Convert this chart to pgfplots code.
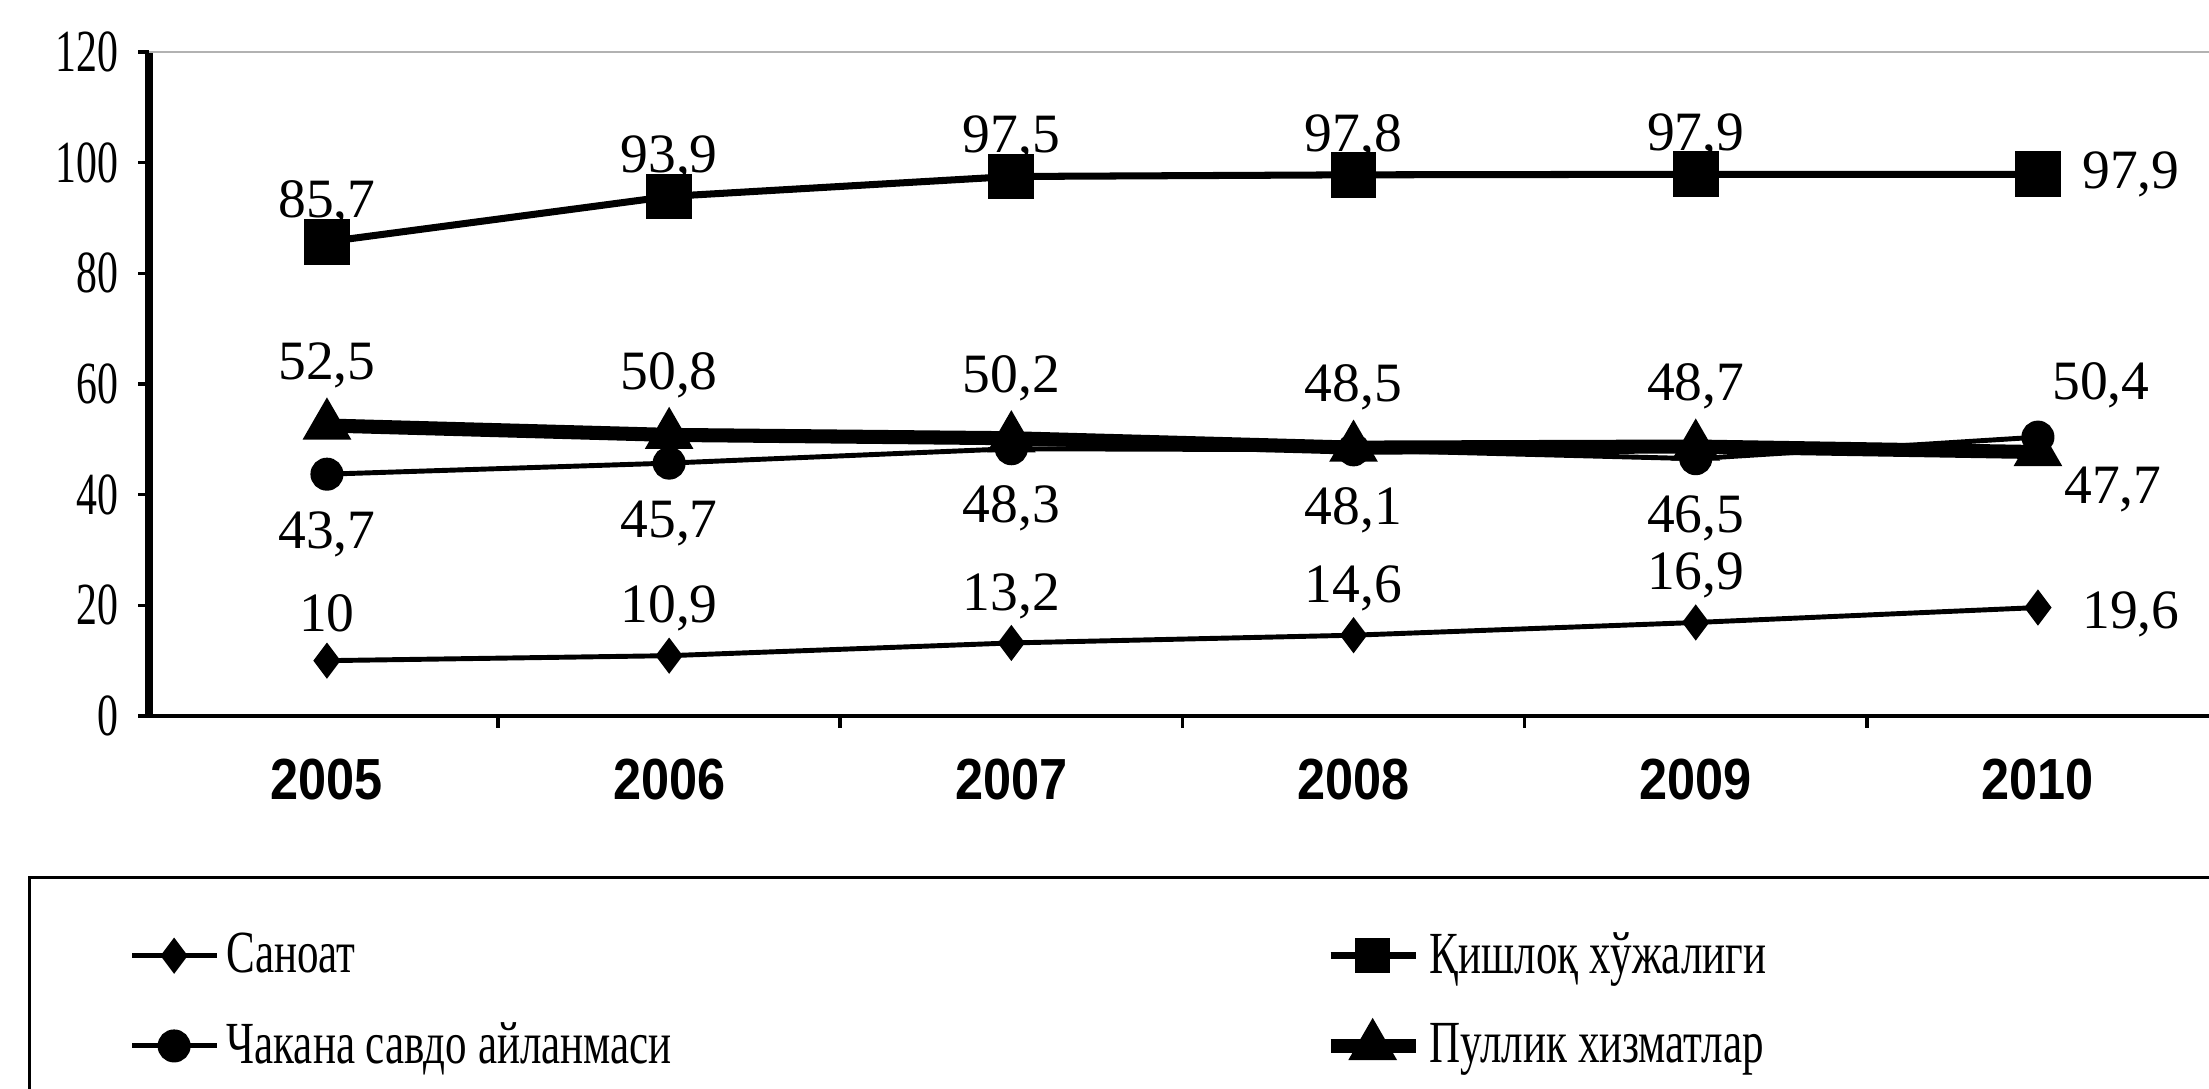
\documentclass[border=0pt]{standalone}
\usepackage{fontspec}
\setmainfont{Liberation Serif}
\newfontfamily\condserif{Liberation Serif}[FakeStretch=0.72]
\newfontfamily\tickserif{Liberation Serif}[FakeStretch=0.7]
\newfontfamily\xfont{Liberation Sans Bold}[FakeStretch=0.87]
\usepackage{pgfplots}
\pgfplotsset{compat=1.18}
\begin{document}
\begin{tikzpicture}
\useasboundingbox (-1.49,-3.73) rectangle (20.60,7.16);
\begin{axis}[
  scale only axis, width=20.60cm, height=6.64cm,
  xmin=-0.52, xmax=5.5, ymin=0, ymax=120,
  axis lines*=left,
  x axis line style={line width=1.2pt},
  y axis line style={line width=2.3pt},
  ytick={0,20,...,120},
  tick align=outside, major tick length=0.11cm,
  ytick style={line width=1pt, black},
  xtick={0,...,5}, xticklabels={2005,2006,2007,2008,2009,2010},
  major x tick style={draw=none},
  minor xtick={0.5,1.5,2.5,3.5,4.5},
  minor tick length=0.12cm,
  minor x tick style={line width=1pt, black},
  yticklabel style={font=\tickserif\fontsize{17}{19}\selectfont, xshift=-0.07cm},
  xticklabel style={font=\xfont\fontsize{16.5}{18}\selectfont, yshift=-0.2cm},
  /pgf/number format/.cd, use comma, fixed, precision=1, assume math mode=true,
  /pgfplots/.cd,
  legend columns=2,
  legend cell align=left,
  legend image code/.code={\draw[mark repeat=2, mark phase=2, #1] plot coordinates {(0cm,0cm) (0.42cm,0cm) (0.85cm,0cm)};},
  legend style={at={(-0.0587,-0.241)}, anchor=north west, draw=black, line width=0.9pt,
    font=\condserif\fontsize{17}{19}\selectfont, inner xsep=1.0cm, inner ysep=0.48cm,
    row sep=0.3cm, cells={anchor=west}},
  lab/.style={only marks, mark=*, mark size=0pt, mark options={draw=none, fill=none}, forget plot,
    nodes near coords, every node near coord/.append style={black, anchor=center, font=\fontsize{15.8}{18}\selectfont}},
]
\draw[gray!60, line width=0.8pt] (rel axis cs:0,1) -- (rel axis cs:1,1);

% Саноат
\addplot[black, line width=1.4pt, mark=diamond*, mark size=4pt] coordinates {(0,10) (1,10.9) (2,13.2) (3,14.6) (4,16.9) (5,19.6)};
\addlegendentry{\makebox[10.9cm][l]{Саноат}}
% Қишлоқ хўжалиги
\addplot[black, line width=2pt, mark=square*, mark size=5.5pt, legend image post style={mark size=4pt}] coordinates {(0,85.7) (1,93.9) (2,97.5) (3,97.8) (4,97.9) (5,97.9)};
\addlegendentry{\makebox[10.9cm][l]{Қишлоқ хўжалиги}}
% Чакана савдо айланмаси
\addplot[black, line width=1.4pt, mark=*, mark size=4pt] coordinates {(0,43.7) (1,45.7) (2,48.3) (3,48.1) (4,46.5) (5,50.4)};
\addlegendentry{\makebox[10.9cm][l]{Чакана савдо айланмаси}}
% Пуллик хизматлар
\addplot[black, line width=4pt, mark=triangle*, mark size=4pt] coordinates {(0,52.5) (1,50.8) (2,50.2) (3,48.5) (4,48.7) (5,47.7)};
\addlegendentry{\makebox[10.9cm][l]{Пуллик хизматлар}}

% labels
\addplot[lab, every node near coord/.append style={yshift=0.47cm}] coordinates {(0,10) (1,10.9) (2,13.2) (3,14.6) (4,16.9)};
\addplot[lab, every node near coord/.append style={anchor=west, xshift=0.32cm, yshift=-0.07cm}] coordinates {(5,19.6)};
\addplot[lab, every node near coord/.append style={yshift=0.38cm}] coordinates {(0,85.7) (1,93.9) (2,97.5) (3,97.8) (4,97.9)};
\addplot[lab, every node near coord/.append style={anchor=west, xshift=0.32cm}] coordinates {(5,97.9)};
\addplot[lab, every node near coord/.append style={yshift=-0.6cm}] coordinates {(0,43.7) (1,45.7) (2,48.3) (3,48.1) (4,46.5)};
\addplot[lab, every node near coord/.append style={xshift=0.63cm, yshift=0.52cm}] coordinates {(5,50.4)};
\addplot[lab, every node near coord/.append style={yshift=0.6cm}] coordinates {(0,52.5) (1,50.8) (2,50.2) (3,48.5) (4,48.7)};
\addplot[lab, every node near coord/.append style={xshift=0.75cm, yshift=-0.37cm}] coordinates {(5,47.7)};
\end{axis}
\end{tikzpicture}
\end{document}
